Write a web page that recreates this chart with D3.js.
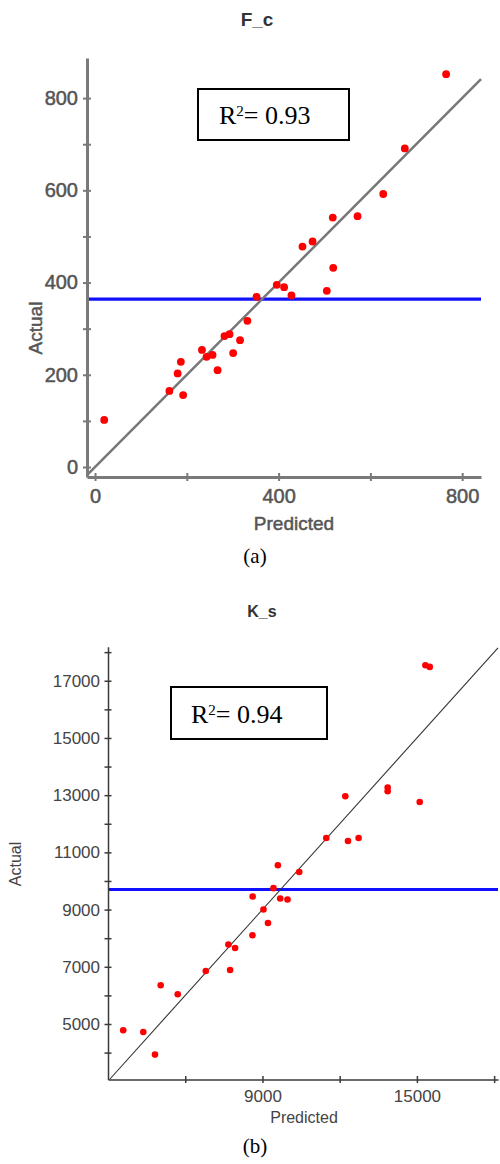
<!DOCTYPE html>
<html>
<head>
<meta charset="utf-8">
<script src="https://cdn.jsdelivr.net/npm/d3@7"></script>
<style>
  html, body { margin: 0; padding: 0; background: #fff; }
  svg { display: block; }
  .tick text { font-family: "Liberation Sans", Arial, sans-serif; }
</style>
</head>
<body>
<svg id="fig" width="500" height="1164"></svg>
<script>
// (a) F_c — predicted vs actual
const fcPredicted = [765, 675, 628, 572, 518, 474, 452, 519, 505, 428, 396, 412, 352, 332,
  316, 282, 293, 301, 267, 233, 243, 256, 187, 180, 162, 192, 20];
const fcActual = [852, 691, 592, 544, 541, 489, 478, 432, 382, 372, 395, 390, 369, 317,
  275, 284, 288, 247, 210, 254, 239, 243, 228, 203, 165, 156, 102];
const fcMean = 364;
const fcR2 = '0.93';
const fcXTicks = [0, 200, 400, 600, 800];
const fcXLabels = [0, 400, 800];
const fcYTicks = [0, 100, 200, 300, 400, 500, 600, 700, 800];
const fcYLabels = [0, 200, 400, 600, 800];

// (b) K_s — predicted vs actual
const ksPredicted = [15331, 15498, 13864, 13864, 12218, 15109, 11479, 12323, 12735, 9599,
  10428, 9428, 8620, 9689, 9973, 9039, 9215, 8611, 7677, 7938, 6798, 7743, 5047, 5708,
  3591, 4370, 4825];
const ksActual = [17542, 17483, 13266, 13136, 12962, 12762, 11503, 11399, 11503, 10549,
  10315, 9750, 9460, 9385, 9350, 9005, 8531, 8105, 7776, 7657, 6853, 6888, 6353, 6038,
  4780, 4720, 3930];
const ksMean = 9700;
const ksR2 = '0.94';
const ksXTicks = [6000, 9000, 12000, 15000, 18000];
const ksXLabels = [9000, 15000];
const ksYTicks = [4000, 5000, 6000, 7000, 8000, 9000, 10000, 11000, 12000, 13000, 14000,
  15000, 16000, 17000, 18000];
const ksYLabels = [5000, 7000, 9000, 11000, 13000, 15000, 17000];

(function () {
  const svg = d3.select('#fig');
  const SANS = '"Liberation Sans", Arial, sans-serif';
  const SERIF = '"Liberation Serif", "Times New Roman", serif';

  const panels = [
    {
      title: 'F_c', caption: '(a)',
      xs: fcPredicted, ys: fcActual, mean: fcMean, r2: fcR2,
      xTicks: fcXTicks, xLabels: fcXLabels, yTicks: fcYTicks, yLabels: fcYLabels,
      xDom: [-17.5, 841], xRange: [87, 481],
      yDom: [-21.7, 887], yRange: [477, 58],
      axisColor: '#7a7a7a', axisW: 3, tickHalf: 4, textColor: '#555', fontSize: 20, textStroke: 0.5,
      diagColor: '#777', diagW: 2.5, dotR: 3.9, blueW: 3.2,
      titleX: 257, titleY: 26, titleSize: 19,
      yLabelX: 35, yLabelY: 328, xLabelX: 294, xLabelY: 530,
      xTickY: 12, yTickX: -9,
      box: { x: 198, y: 89, w: 151, h: 51 }, r2X: 219, r2Y: 124,
      capY: 563
    },
    {
      title: 'K_s', caption: '(b)',
      xs: ksPredicted, ys: ksActual, mean: ksMean, r2: ksR2,
      xTicks: ksXTicks, xLabels: ksXLabels, yTicks: ksYTicks, yLabels: ksYLabels,
      xDom: [3000, 18150], xRange: [108, 498],
      yDom: [3060, 18190], yRange: [1079.5, 646.7],
      axisColor: '#3a3a3a', axisW: 1.5, tickHalf: 3.5, textColor: '#444', fontSize: 17, textStroke: 0,
      diagColor: '#333', diagW: 1.1, dotR: 3.3, blueW: 3,
      titleX: 262, titleY: 617, titleSize: 16,
      yLabelX: 15, yLabelY: 864, xLabelX: 304, xLabelY: 1123,
      xTickY: 10.5, yTickX: -8,
      box: { x: 171, y: 687, w: 156, h: 52 }, r2X: 191, r2Y: 723,
      capY: 1153
    }
  ];

  panels.forEach(drawPanel);

  function drawPanel(p) {
    const x = d3.scaleLinear().domain(p.xDom).range(p.xRange);
    const y = d3.scaleLinear().domain(p.yDom).range(p.yRange);
    const g = svg.append('g');

    // title
    g.append('text')
      .attr('x', p.titleX).attr('y', p.titleY)
      .attr('text-anchor', 'middle')
      .attr('font-family', SANS).attr('font-weight', 'bold')
      .attr('font-size', p.titleSize).attr('fill', '#333')
      .text(p.title);

    // mean line (blue)
    g.append('line')
      .attr('x1', p.xRange[0]).attr('x2', p.xRange[1])
      .attr('y1', y(p.mean)).attr('y2', y(p.mean))
      .attr('stroke', '#1010ff').attr('stroke-width', p.blueW);

    // y = x reference
    const lo = Math.max(p.xDom[0], p.yDom[0]);
    const hi = Math.min(p.xDom[1], p.yDom[1]);
    g.append('line')
      .attr('x1', x(lo)).attr('y1', y(lo))
      .attr('x2', x(hi)).attr('y2', y(hi))
      .attr('stroke', p.diagColor).attr('stroke-width', p.diagW);

    // axes
    const yAxis = d3.axisLeft(y)
      .tickValues(p.yTicks)
      .tickSizeOuter(0)
      .tickFormat((d) => (p.yLabels.includes(d) ? d : ''));
    const xAxis = d3.axisBottom(x)
      .tickValues(p.xTicks)
      .tickSizeOuter(0)
      .tickFormat((d) => (p.xLabels.includes(d) ? d : ''));

    const gy = g.append('g')
      .attr('transform', `translate(${p.xRange[0]},0)`)
      .call(yAxis);
    const gx = g.append('g')
      .attr('transform', `translate(0,${p.yRange[0]})`)
      .call(xAxis);

    [gx, gy].forEach((ax) => {
      ax.select('.domain').attr('stroke', p.axisColor).attr('stroke-width', p.axisW);
      ax.selectAll('.tick line').attr('stroke', p.axisColor).attr('stroke-width', Math.max(1.5, p.axisW - 1));
      ax.selectAll('.tick text')
        .attr('font-size', p.fontSize).attr('fill', p.textColor)
        .attr('stroke', p.textStroke ? p.textColor : null)
        .attr('stroke-width', p.textStroke || null);
    });
    // ticks cross the axis line
    gy.selectAll('.tick line').attr('x1', -p.tickHalf).attr('x2', p.tickHalf);
    gx.selectAll('.tick line').attr('y1', -p.tickHalf).attr('y2', p.tickHalf);
    gy.selectAll('.tick text').attr('x', p.yTickX);
    gx.selectAll('.tick text').attr('y', p.xTickY);

    // axis titles
    g.append('text')
      .attr('transform', `translate(${p.yLabelX},${p.yLabelY}) rotate(-90)`)
      .attr('text-anchor', 'middle').attr('dy', '0.35em')
      .attr('font-family', SANS).attr('font-size', p.fontSize - 1)
      .attr('fill', p.textColor)
      .attr('stroke', p.textStroke ? p.textColor : null)
      .attr('stroke-width', p.textStroke || null)
      .text('Actual');
    g.append('text')
      .attr('x', p.xLabelX).attr('y', p.xLabelY)
      .attr('text-anchor', 'middle')
      .attr('font-family', SANS).attr('font-size', p.fontSize - 1)
      .attr('fill', p.textColor)
      .attr('stroke', p.textStroke ? p.textColor : null)
      .attr('stroke-width', p.textStroke || null)
      .text('Predicted');

    // points
    g.append('g').selectAll('circle')
      .data(p.xs.map((v, i) => [v, p.ys[i]]))
      .join('circle')
      .attr('cx', (d) => x(d[0]))
      .attr('cy', (d) => y(d[1]))
      .attr('r', p.dotR)
      .attr('fill', '#ff0000');

    // R² box
    g.append('rect')
      .attr('x', p.box.x).attr('y', p.box.y)
      .attr('width', p.box.w).attr('height', p.box.h)
      .attr('fill', '#fff').attr('stroke', '#000').attr('stroke-width', 2);
    const t = g.append('text')
      .attr('x', p.r2X).attr('y', p.r2Y)
      .attr('font-family', SERIF).attr('font-size', 26).attr('fill', '#000');
    t.append('tspan').text('R');
    t.append('tspan').attr('dy', -8).attr('font-size', 15).text('2');
    t.append('tspan').attr('dy', 8).text('= ' + p.r2);

    // caption
    svg.append('text')
      .attr('x', 255).attr('y', p.capY)
      .attr('text-anchor', 'middle')
      .attr('font-family', SERIF).attr('font-size', 21).attr('fill', '#000')
      .text(p.caption);
  }
})();
</script>
</body>
</html>
